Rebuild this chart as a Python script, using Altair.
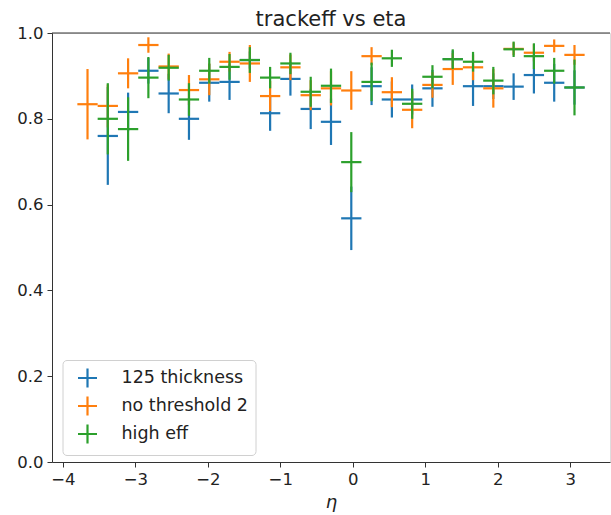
import altair as alt
import pandas as pd

# bin centres in eta (bin width 0.28)
eta_centers = [-3.66, -3.38, -3.10, -2.82, -2.54, -2.26, -1.98, -1.70, -1.42, -1.14,
               -0.86, -0.58, -0.30, -0.02, 0.26, 0.54, 0.82, 1.10, 1.38, 1.66,
               1.94, 2.22, 2.50, 2.78, 3.06]
eta_halfwidth = 0.14

series_names = ["125 thickness", "no threshold 2", "high eff"]
series_colors = ["#1f77b4", "#ff7f0e", "#2ca02c"]

eff_125 = [None, 0.760, 0.816, 0.912, 0.859, 0.800, 0.884, 0.886, 0.937, 0.813,
           0.893, 0.823, 0.793, 0.568, 0.876, 0.845, 0.845, 0.871, 0.939, 0.876,
           0.876, 0.875, 0.902, 0.884, 0.873]
err_125 = [None, 0.114, 0.045, 0.030, 0.046, 0.049, 0.044, 0.042, 0.020, 0.041,
           0.039, 0.047, 0.054, 0.074, 0.044, 0.042, 0.035, 0.043, 0.020, 0.046,
           0.030, 0.031, 0.043, 0.044, 0.040]

eff_nothr = [0.834, 0.830, 0.906, 0.972, 0.922, 0.867, 0.892, 0.933, 0.929, 0.853,
             0.920, 0.855, 0.871, 0.866, 0.946, 0.862, 0.821, 0.879, 0.916, 0.920,
             0.871, 0.963, 0.954, 0.970, 0.949]
err_nothr = [0.082, 0.050, 0.035, 0.018, 0.030, 0.035, 0.037, 0.023, 0.043, 0.035,
             0.030, 0.035, 0.040, 0.045, 0.021, 0.035, 0.043, 0.030, 0.037, 0.030,
             0.045, 0.015, 0.020, 0.015, 0.023]

eff_high = [None, 0.800, 0.776, 0.896, 0.919, 0.845, 0.912, 0.921, 0.937, 0.896,
            0.929, 0.863, 0.877, 0.699, 0.886, 0.941, 0.835, 0.898, 0.939, 0.933,
            0.889, 0.962, 0.946, 0.912, 0.873]
err_high = [None, 0.083, 0.074, 0.048, 0.030, 0.038, 0.030, 0.030, 0.030, 0.025,
            0.025, 0.035, 0.040, 0.070, 0.045, 0.020, 0.035, 0.027, 0.023, 0.023,
            0.032, 0.018, 0.030, 0.030, 0.065]

x_ticks = [-4, -3, -2, -1, 0, 1, 2, 3]
y_ticks = [0.0, 0.2, 0.4, 0.6, 0.8, 1.0]

rows = []
for name, vals, errs in zip(series_names, [eff_125, eff_nothr, eff_high],
                            [err_125, err_nothr, err_high]):
    for x, v, e in zip(eta_centers, vals, errs):
        if v is None:
            continue
        rows.append(dict(series=name, x=x, x2=x, y=v - e, y2=v + e))
        rows.append(dict(series=name, x=x - eta_halfwidth, x2=x + eta_halfwidth, y=v, y2=v))
df = pd.DataFrame(rows)
df["order"] = range(len(df))

FONT = "DejaVu Sans"
PW, PH = 558, 429

bars = alt.Chart(df).mark_rule(strokeWidth=2.2).encode(
    x=alt.X("x:Q",
            scale=alt.Scale(domain=[-4.15, 3.55], nice=False, zero=False),
            axis=alt.Axis(values=x_ticks, title="η", grid=False,
                          labelExpr="replace(format(datum.value, 'd'), '-', '−')",
                          labelFontSize=16.5, labelFont=FONT, labelColor="#222",
                          labelPadding=4, tickSize=5, tickColor="#333", domainColor="#333",
                          titleFont=FONT, titleFontSize=18, titleFontStyle="italic",
                          titleFontWeight="normal", titleColor="#222", titlePadding=6)),
    x2="x2:Q",
    y=alt.Y("y:Q",
            scale=alt.Scale(domain=[0, 1], nice=False),
            axis=alt.Axis(values=y_ticks, format=".1f", title=None, grid=False,
                          labelFontSize=16.5, labelFont=FONT, labelColor="#222",
                          labelPadding=4, tickSize=5, tickColor="#333", domainColor="#333")),
    y2="y2:Q",
    color=alt.Color("series:N",
                    scale=alt.Scale(domain=series_names, range=series_colors),
                    legend=alt.Legend(title=None, orient="none", legendX=10.5, legendY=327,
                                      symbolType="M-1,0H1M0,-1V1", symbolSize=361,
                                      symbolStrokeWidth=2.2, labelFontSize=17.5,
                                      labelFont=FONT, labelColor="#222", padding=7,
                                      symbolOffset=7, labelOffset=23, rowPadding=0,
                                      strokeColor="#d0d0d0", fillColor="white",
                                      cornerRadius=4)),
    order="order:Q",
)

top_spine = alt.Chart(pd.DataFrame({"a": [0]})).mark_rule(color="#333", strokeWidth=1).encode(
    x=alt.value(0), x2=alt.value(PW), y=alt.value(0)
)

chart = alt.layer(bars, top_spine).properties(
    width=PW, height=PH,
    title=alt.Title("trackeff vs eta", fontSize=21, font=FONT, fontWeight="normal",
                    color="#222", offset=0, baseline="alphabetic", anchor="middle", dy=22),
    padding={"left": 52, "top": 33, "right": 1, "bottom": 53},
    autosize=alt.AutoSizeParams(type="none"),
).configure_view(stroke=None).configure(font=FONT)

chart.save("out.html", embed_options={"renderer": "svg", "actions": False})
